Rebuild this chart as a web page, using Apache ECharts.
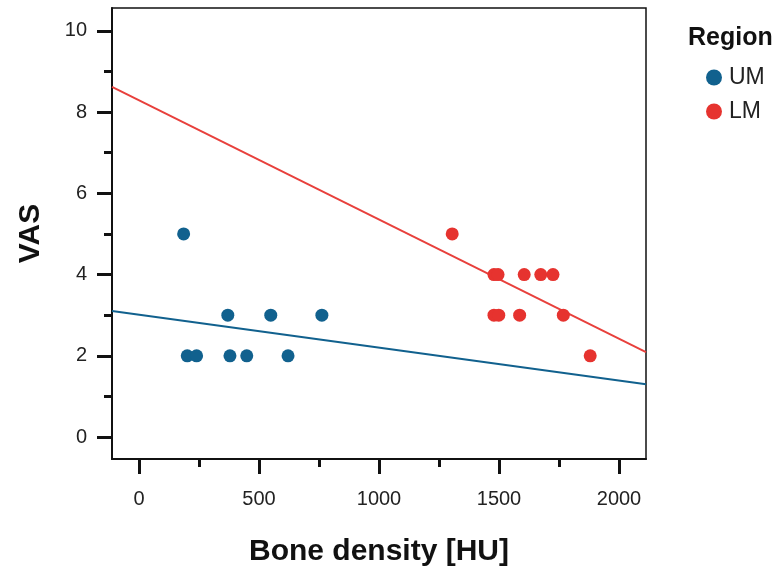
<!DOCTYPE html>
<html>
<head>
<meta charset="utf-8">
<script src="https://cdn.jsdelivr.net/npm/echarts@6/dist/echarts.min.js"></script>
<style>html,body{margin:0;padding:0;background:#fff}#c{width:782px;height:573px}</style>
</head>
<body>
<div id="c"></div>
<script>
// ---- data ----
var umHU  = [186, 370, 549, 762, 201, 240, 379, 449, 621];
var umVAS = [5, 3, 3, 3, 2, 2, 2, 2, 2];
var lmHU  = [1305, 1479, 1496, 1605, 1674, 1725, 1479, 1499, 1586, 1768, 1880];
var lmVAS = [5, 4, 4, 4, 4, 4, 3, 3, 3, 3, 2];
var umFitX = [-112.5, 2112.5];
var umFitY = [3.10, 1.30];
var lmFitX = [-112.5, 2112.5];
var lmFitY = [8.62, 2.09];
var xMajorTicks = [0, 500, 1000, 1500, 2000];
var xMinorTicks = [250, 750, 1250, 1750];
var yMajorTicks = [0, 2, 4, 6, 8, 10];
var yMinorTicks = [1, 3, 5, 7, 9];
var xRange = [-112.5, 2112.5];
var yRange = [-0.54, 10.56];

var BLUE = '#11618e', RED = '#e6332f';
function pairs(xs, ys){ return xs.map(function(x,i){ return [x, ys[i]]; }); }
function plain(v){ return String(v); }

var font = 'Liberation Sans, Arial, sans-serif';
var chart = echarts.init(document.getElementById('c'), null, {renderer:'canvas'});
var axisLineStyle = {color:'#111', width:2};
chart.setOption({
  animation:false,
  textStyle:{fontFamily:font},
  grid:{left:112, top:8, right:136, bottom:114, show:true, borderColor:'#111', borderWidth:1.5, containLabel:false},
  title:{text:'Region', left:683, top:21, textStyle:{fontFamily:font, fontSize:25, fontWeight:'bold', color:'#111'}},
  legend:{
    data:['UM','LM'], orient:'vertical', left:701, top:61,
    itemWidth:16, itemHeight:16, itemGap:11, icon:'circle',
    textStyle:{fontFamily:font, fontSize:23, color:'#222', padding:[0,0,0,2]}
  },
  xAxis:[{
    type:'value', min:xRange[0], max:xRange[1], position:'bottom',
    name:'Bone density [HU]', nameLocation:'middle', nameGap:78,
    nameTextStyle:{fontFamily:font, fontSize:30, fontWeight:'bold', color:'#111'},
    axisLine:{show:true, onZero:false, lineStyle:axisLineStyle},
    axisTick:{show:true, inside:false, length:15, customValues:xMajorTicks, lineStyle:{color:'#111', width:3}},
    axisLabel:{show:true, customValues:xMajorTicks, formatter:plain, margin:30, fontSize:20, color:'#222', fontFamily:font},
    splitLine:{show:false}
  },{
    type:'value', min:xRange[0], max:xRange[1], position:'bottom',
    axisLine:{show:false, onZero:false},
    axisTick:{show:true, inside:false, length:8, customValues:xMinorTicks, lineStyle:{color:'#111', width:3}},
    axisLabel:{show:false}, splitLine:{show:false}
  }],
  yAxis:[{
    type:'value', min:yRange[0], max:yRange[1], position:'left',
    name:'VAS', nameLocation:'middle', nameGap:66, nameRotate:90,
    nameTextStyle:{fontFamily:font, fontSize:30, fontWeight:'bold', color:'#111'},
    axisLine:{show:true, onZero:false, lineStyle:axisLineStyle},
    axisTick:{show:true, inside:false, length:15, customValues:yMajorTicks, lineStyle:{color:'#111', width:3}},
    axisLabel:{show:true, customValues:yMajorTicks, formatter:plain, margin:25, fontSize:20, color:'#222', fontFamily:font},
    splitLine:{show:false}
  },{
    type:'value', min:yRange[0], max:yRange[1], position:'left',
    axisLine:{show:false, onZero:false},
    axisTick:{show:true, inside:false, length:8, customValues:yMinorTicks, lineStyle:{color:'#111', width:3}},
    axisLabel:{show:false}, splitLine:{show:false}
  }],
  series:[
    {name:'UM fit', type:'line', data:pairs(umFitX, umFitY), showSymbol:false, symbol:'none',
     lineStyle:{color:BLUE, width:2}, z:1, silent:true},
    {name:'LM fit', type:'line', data:pairs(lmFitX, lmFitY), showSymbol:false, symbol:'none',
     lineStyle:{color:'#e8403c', width:2}, z:1, silent:true},
    {name:'UM', type:'scatter', data:pairs(umHU, umVAS), symbolSize:13, itemStyle:{color:BLUE, opacity:1}, z:3},
    {name:'LM', type:'scatter', data:pairs(lmHU, lmVAS), symbolSize:13, itemStyle:{color:RED, opacity:1}, z:3}
  ]
});
</script>
</body>
</html>
